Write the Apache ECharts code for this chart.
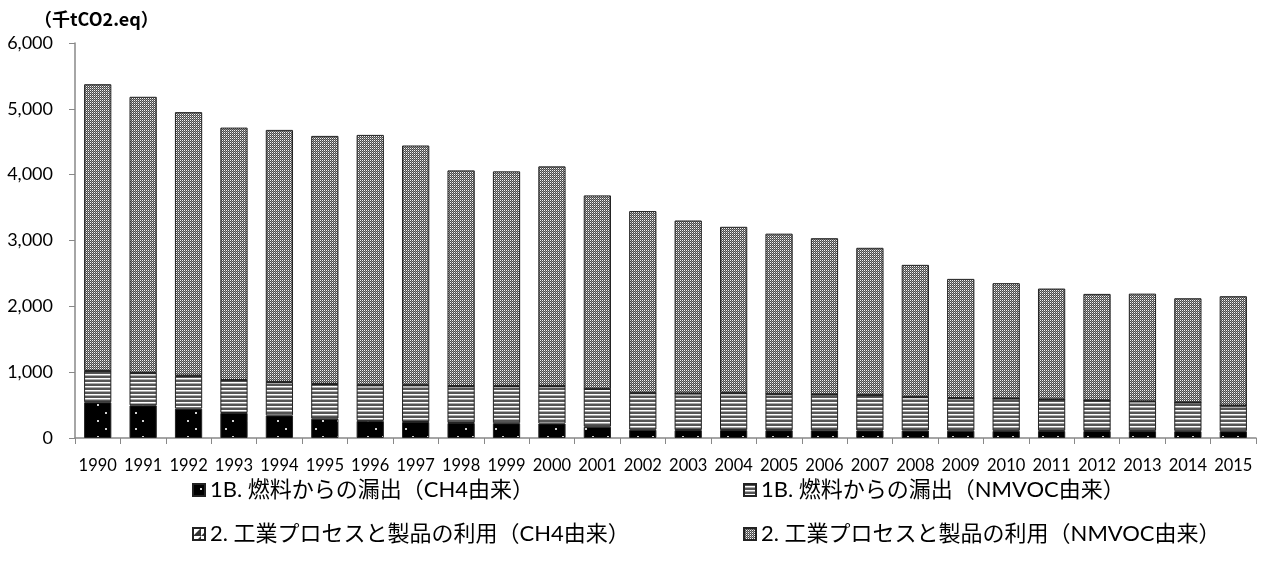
<!DOCTYPE html>
<html>
<head>
<meta charset="utf-8">
<script src="https://cdn.jsdelivr.net/npm/echarts@6/dist/echarts.min.js"></script>
<style>
  html, body { margin: 0; padding: 0; background: #fff; }
  #chart { width: 1263px; height: 573px; }
</style>
</head>
<body>
<div id="chart"></div>
<script>
// Emissions by source, thousand t CO2 eq.
const years = ['1990','1991','1992','1993','1994','1995','1996','1997','1998','1999','2000','2001','2002',
  '2003','2004','2005','2006','2007','2008','2009','2010','2011','2012','2013','2014','2015'];

const seriesNames = [
  '1B. 燃料からの漏出（CH4由来）',
  '1B. 燃料からの漏出（NMVOC由来）',
  '2. 工業プロセスと製品の利用（CH4由来）',
  '2. 工業プロセスと製品の利用（NMVOC由来）'
];

const fuelCH4 = [543, 496, 446, 380, 343, 293, 260, 243, 228, 225, 220, 170, 125,
  120, 120, 118, 117, 115, 113, 110, 108, 107, 106, 105, 104, 103];
const fuelNMVOC = [472, 489, 498, 498, 507, 527, 540, 557, 560, 565, 570, 575, 555,
  555, 560, 552, 543, 535, 507, 495, 492, 478, 464, 450, 436, 387];
const industryCH4 = [3, 3, 3, 3, 3, 3, 3, 3, 2, 2, 2, 2, 2,
  2, 2, 2, 2, 2, 2, 2, 2, 2, 2, 2, 2, 2];
const industryNMVOC = [4356, 4195, 4003, 3834, 3827, 3766, 3801, 3640, 3275, 3258, 3334, 2938, 2765,
  2627, 2526, 2432, 2373, 2237, 2008, 1810, 1750, 1683, 1617, 1636, 1581, 1662];

const yTicks = [0, 1000, 2000, 3000, 4000, 5000, 6000];

// ---- fill patterns ----
function makeCanvas(w, h, draw) {
  const c = document.createElement('canvas');
  c.width = w; c.height = h;
  const ctx = c.getContext('2d');
  draw(ctx);
  return { image: c, repeat: 'repeat' };
}

// black with sparse light dots
const dotFill = makeCanvas(30, 16, ctx => {
  ctx.fillStyle = '#000';
  ctx.fillRect(0, 0, 30, 16);
  ctx.fillStyle = '#d0d0d0';
  [[7, 4], [22, 4], [15, 12]].forEach(([x, y]) => ctx.fillRect(x, y, 2, 2));
});

// horizontal stripes
const stripeFill = makeCanvas(4, 4, ctx => {
  ctx.fillStyle = '#fff';
  ctx.fillRect(0, 0, 4, 4);
  ctx.fillStyle = '#555';
  ctx.fillRect(0, 0, 4, 2);
  ctx.fillStyle = '#aaa';
  ctx.fillRect(0, 3, 4, 1);
});

// diagonal split square
const splitFill = makeCanvas(8, 8, ctx => {
  ctx.fillStyle = '#fff';
  ctx.fillRect(0, 0, 8, 8);
  ctx.fillStyle = '#333';
  ctx.beginPath();
  ctx.moveTo(8, 0); ctx.lineTo(8, 8); ctx.lineTo(0, 8); ctx.closePath();
  ctx.fill();
});

// fine grey checker with white dots
const checkFill = makeCanvas(2, 2, ctx => {
  ctx.fillStyle = '#f4f4f4'; ctx.fillRect(0, 0, 1, 1);
  ctx.fillStyle = '#4a4a4a'; ctx.fillRect(1, 0, 1, 1);
  ctx.fillStyle = '#4a4a4a'; ctx.fillRect(0, 1, 1, 1);
  ctx.fillStyle = '#8c8c8c'; ctx.fillRect(1, 1, 1, 1);
});

const fills = [dotFill, stripeFill, splitFill, checkFill];
const values = [fuelCH4, fuelNMVOC, industryCH4, industryNMVOC];

const FONT = 'Lato, "Noto Sans CJK JP", sans-serif';

const chart = echarts.init(document.getElementById('chart'), null, { renderer: 'canvas' });

const legendPos = [
  { left: 187, top: 474 },
  { left: 738, top: 474 },
  { left: 187, top: 518 },
  { left: 738, top: 518 }
];

chart.setOption({
  animation: false,
  backgroundColor: '#fff',
  textStyle: { fontFamily: FONT },
  graphic: [{
    type: 'text',
    left: 34,
    top: 10,
    style: {
      text: '（千tCO2.eq）',
      font: 'bold 18px "Noto Sans CJK JP", sans-serif',
      fill: '#000'
    }
  }],
  grid: { left: 75, right: 7, top: 43, bottom: 135, containLabel: false },
  legend: seriesNames.map((name, i) => ({
    data: [name],
    left: legendPos[i].left,
    top: legendPos[i].top,
    itemWidth: 12,
    itemHeight: 12,
    icon: 'rect',
    textStyle: { fontSize: 22, color: '#000', fontFamily: FONT },
    selectedMode: false
  })),
  xAxis: {
    type: 'category',
    data: years,
    boundaryGap: true,
    axisLine: { lineStyle: { color: '#888', width: 1.5 } },
    axisTick: { show: true, alignWithLabel: false, length: 6, lineStyle: { color: '#888' } },
    axisLabel: { color: '#000', fontSize: 16.5, margin: 19, interval: 0, fontFamily: FONT }
  },
  yAxis: {
    type: 'value',
    min: 0,
    max: yTicks[yTicks.length - 1],
    interval: 1000,
    axisLine: { show: true, lineStyle: { color: '#888', width: 1.5 } },
    axisTick: { show: true, length: 6, lineStyle: { color: '#888' } },
    splitLine: { show: false },
    axisLabel: {
      color: '#000',
      fontSize: 18,
      margin: 22,
      fontFamily: FONT,
      formatter: v => v.toLocaleString('en-US')
    }
  },
  series: seriesNames.map((name, i) => ({
    name,
    type: 'bar',
    stack: 'total',
    data: values[i],
    barCategoryGap: '40%',
    itemStyle: {
      color: fills[i],
      borderColor: '#222',
      borderWidth: 1
    },
    emphasis: { disabled: true }
  }))
});
</script>
</body>
</html>
